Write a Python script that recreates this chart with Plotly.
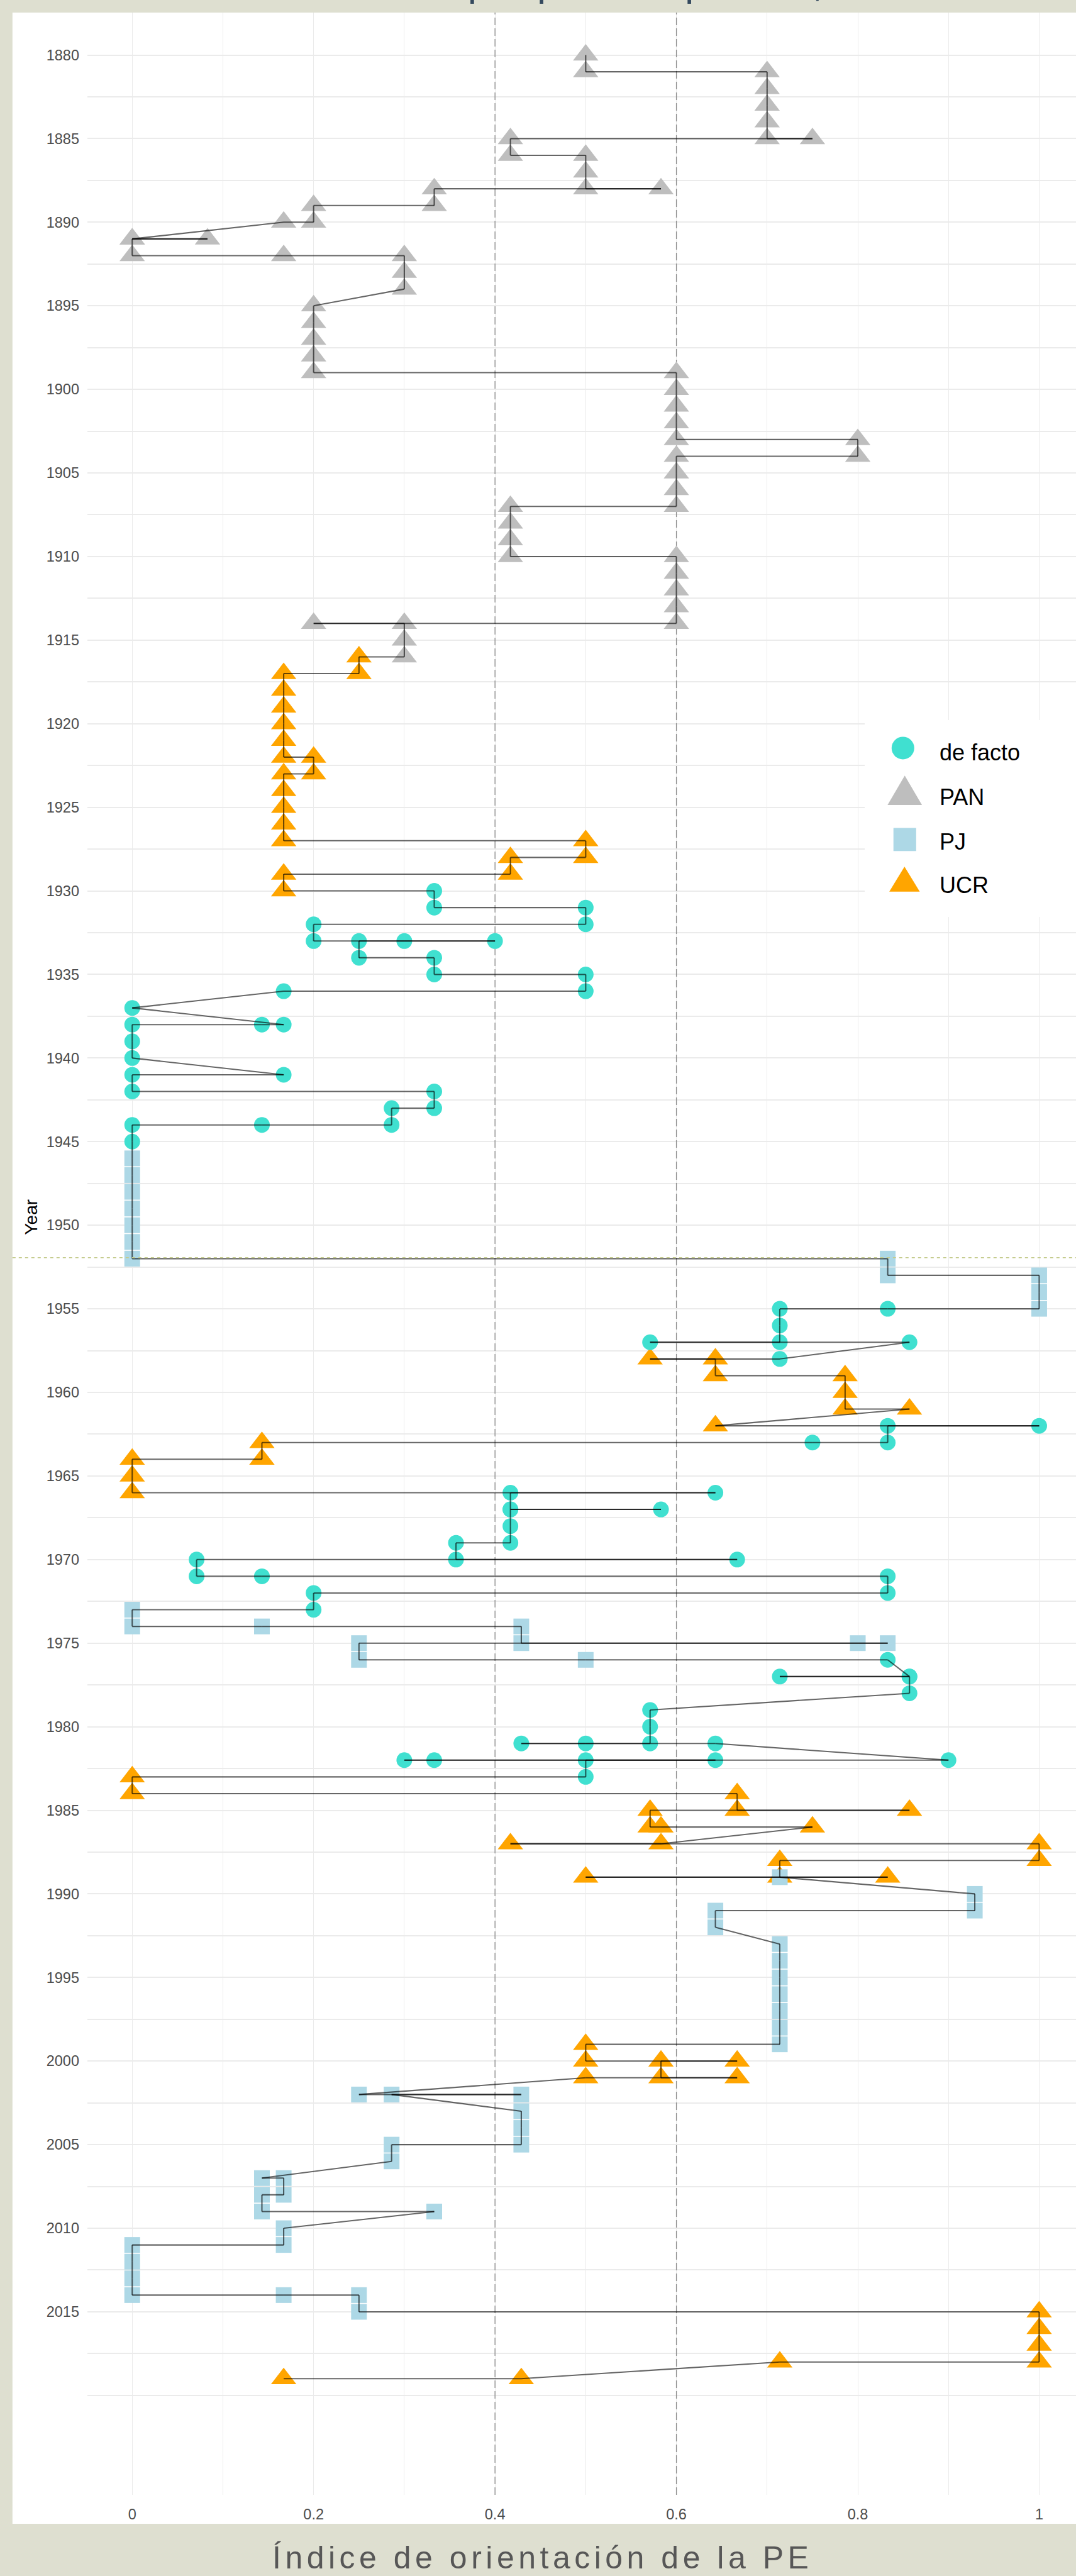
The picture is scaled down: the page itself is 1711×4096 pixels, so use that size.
import plotly.graph_objects as go

# ---------------------------------------------------------------- data
P, U, D, J = "PAN", "UCR", "de facto", "PJ"

# points in the order the path visits them
year = [
    1880,
    1881, 1881,
    1882, 1883, 1884,
    1885, 1885, 1885,
    1886, 1886,
    1887,
    1888, 1888, 1888,
    1889, 1889,
    1890, 1890,
    1891, 1891, 1891,
    1892, 1892, 1892,
    1893, 1894,
    1895, 1896, 1897, 1898,
    1899, 1899,
    1900, 1901, 1902,
    1903, 1903,
    1904, 1904,
    1905, 1906,
    1907, 1907,
    1908, 1909,
    1910, 1910,
    1911, 1912, 1913,
    1914, 1914, 1914,
    1915,
    1916, 1916,
    1917, 1917,
    1918, 1919, 1920, 1921,
    1922, 1922,
    1923, 1923,
    1924, 1925, 1926,
    1927, 1927,
    1928, 1928,
    1929, 1929,
    1930, 1930,
    1931, 1931,
    1932, 1932,
    1933, 1933, 1933, 1933,
    1934, 1934,
    1935, 1935,
    1936, 1936,
    1937,
    1938, 1938, 1938,
    1939, 1940,
    1941, 1941,
    1942, 1942,
    1943, 1943,
    1944, 1944, 1944,
    1945,
    1946, 1947, 1948, 1949, 1950, 1951,
    1952, 1952,
    1953, 1953,
    1954,
    1955, 1955, 1955,
    1956,
    1957, 1957, 1957,
    1958, 1958, 1958,
    1959, 1959,
    1960,
    1961, 1961,
    1962, 1962, 1962,
    1963, 1963, 1963,
    1964, 1964,
    1965,
    1966, 1966, 1966,
    1967, 1967, 1967,
    1968,
    1969, 1969,
    1970, 1970, 1970,
    1971, 1971, 1971,
    1972, 1972,
    1973, 1973,
    1974, 1974, 1974,
    1975, 1975, 1975, 1975,
    1976, 1976, 1976,
    1977, 1977, 1977,
    1978, 1979, 1980,
    1981, 1981, 1981, 1981,
    1982, 1982, 1982, 1982, 1982,
    1983, 1983,
    1984, 1984,
    1985, 1985, 1985,
    1986, 1986, 1986,
    1987, 1987, 1987,
    1988, 1988,
    1989, 1989, 1989, 1989,
    1990,
    1991, 1991,
    1992,
    1993, 1994, 1995, 1996, 1997, 1998,
    1999, 1999,
    2000, 2000, 2000,
    2001, 2001, 2001,
    2002, 2002, 2002,
    2003, 2004,
    2005, 2005,
    2006,
    2007, 2007,
    2008, 2008,
    2009, 2009,
    2010,
    2011, 2011,
    2012, 2013,
    2014, 2014, 2014,
    2015, 2015,
    2016, 2017,
    2018, 2018,
    2019, 2019,
]

orientation = [
    0.5,
    0.5, 0.7,
    0.7, 0.7, 0.7,
    0.7, 0.75, 0.417,
    0.417, 0.5,
    0.5,
    0.5, 0.583, 0.333,
    0.333, 0.2,
    0.2, 0.167,
    0.0, 0.083, 0.0,
    0.0, 0.167, 0.3,
    0.3, 0.3,
    0.2, 0.2, 0.2, 0.2,
    0.2, 0.6,
    0.6, 0.6, 0.6,
    0.6, 0.8,
    0.8, 0.6,
    0.6, 0.6,
    0.6, 0.417,
    0.417, 0.417,
    0.417, 0.6,
    0.6, 0.6, 0.6,
    0.6, 0.2, 0.3,
    0.3,
    0.3, 0.25,
    0.25, 0.167,
    0.167, 0.167, 0.167, 0.167,
    0.167, 0.2,
    0.2, 0.167,
    0.167, 0.167, 0.167,
    0.167, 0.5,
    0.5, 0.417,
    0.417, 0.167,
    0.167, 0.333,
    0.333, 0.5,
    0.5, 0.2,
    0.2, 0.3, 0.4, 0.25,
    0.25, 0.333,
    0.333, 0.5,
    0.5, 0.167,
    0.0,
    0.167, 0.143, 0.0,
    0.0, 0.0,
    0.167, 0.0,
    0.0, 0.333,
    0.333, 0.286,
    0.286, 0.143, 0.0,
    0.0,
    0.0, 0.0, 0.0, 0.0, 0.0, 0.0,
    0.0, 0.833,
    0.833, 1.0,
    1.0,
    1.0, 0.833, 0.714,
    0.714,
    0.714, 0.571, 0.857,
    0.714, 0.571, 0.643,
    0.643, 0.786,
    0.786,
    0.786, 0.857,
    0.643, 1.0, 0.833,
    0.833, 0.75, 0.143,
    0.143, 0.0,
    0.0,
    0.0, 0.643, 0.417,
    0.417, 0.583, 0.417,
    0.417,
    0.417, 0.357,
    0.357, 0.667, 0.071,
    0.071, 0.143, 0.833,
    0.833, 0.2,
    0.2, 0.0,
    0.0, 0.143, 0.429,
    0.429, 0.8, 0.833, 0.25,
    0.25, 0.5, 0.833,
    0.857, 0.714, 0.857,
    0.857, 0.571, 0.571,
    0.571, 0.429, 0.5, 0.643,
    0.9, 0.3, 0.333, 0.643, 0.5,
    0.5, 0.0,
    0.0, 0.667,
    0.667, 0.857, 0.571,
    0.571, 0.583, 0.75,
    0.583, 0.417, 1.0,
    1.0, 0.714,
    0.714, 0.5, 0.833, 0.714,
    0.929,
    0.929, 0.643,
    0.643,
    0.714, 0.714, 0.714, 0.714, 0.714, 0.714,
    0.714, 0.5,
    0.5, 0.667, 0.583,
    0.583, 0.667, 0.5,
    0.25, 0.429, 0.286,
    0.429, 0.429,
    0.429, 0.286,
    0.286,
    0.143, 0.167,
    0.167, 0.143,
    0.143, 0.333,
    0.167,
    0.167, 0.0,
    0.0, 0.0,
    0.0, 0.167, 0.25,
    0.25, 1.0,
    1.0, 1.0,
    1.0, 0.714,
    0.429, 0.167,
]

party = [
    P,
    P, P,
    P, P, P,
    P, P, P,
    P, P,
    P,
    P, P, P,
    P, P,
    P, P,
    P, P, P,
    P, P, P,
    P, P,
    P, P, P, P,
    P, P,
    P, P, P,
    P, P,
    P, P,
    P, P,
    P, P,
    P, P,
    P, P,
    P, P, P,
    P, P, P,
    P,
    P, U,
    U, U,
    U, U, U, U,
    U, U,
    U, U,
    U, U, U,
    U, U,
    U, U,
    U, U,
    U, D,
    D, D,
    D, D,
    D, D, D, D,
    D, D,
    D, D,
    D, D,
    D,
    D, D, D,
    D, D,
    D, D,
    D, D,
    D, D,
    D, D, D,
    D,
    J, J, J, J, J, J,
    J, J,
    J, J,
    J,
    J, D, D,
    D,
    D, D, D,
    D, U, U,
    U, U,
    U,
    U, U,
    U, D, D,
    D, D, U,
    U, U,
    U,
    U, D, D,
    D, D, D,
    D,
    D, D,
    D, D, D,
    D, D, D,
    D, D,
    D, J,
    J, J, J,
    J, J, J, J,
    J, J, D,
    D, D, D,
    D, D, D,
    D, D, D, D,
    D, D, D, D, D,
    D, U,
    U, U,
    U, U, U,
    U, U, U,
    U, U, U,
    U, U,
    U, U, U, J,
    J,
    J, J,
    J,
    J, J, J, J, J, J,
    J, U,
    U, U, U,
    U, U, U,
    J, J, J,
    J, J,
    J, J,
    J,
    J, J,
    J, J,
    J, J,
    J,
    J, J,
    J, J,
    J, J, J,
    J, U,
    U, U,
    U, U,
    U, U,
]

assert len(year) == len(orientation) == len(party)

year_ticks = [1880, 1885, 1890, 1895, 1900, 1905, 1910, 1915, 1920, 1925,
              1930, 1935, 1940, 1945, 1950, 1955, 1960, 1965, 1970, 1975,
              1980, 1985, 1990, 1995, 2000, 2005, 2010, 2015]
year_grid_minor = [1882.5, 1887.5, 1892.5, 1897.5, 1902.5, 1907.5, 1912.5,
                   1917.5, 1922.5, 1927.5, 1932.5, 1937.5, 1942.5, 1947.5,
                   1952.5, 1957.5, 1962.5, 1967.5, 1972.5, 1977.5, 1982.5,
                   1987.5, 1992.5, 1997.5, 2002.5, 2007.5, 2012.5, 2017.5,
                   2020]
x_ticks = [0, 0.2, 0.4, 0.6, 0.8, 1]
x_tick_text = ["0", "0.2", "0.4", "0.6", "0.8", "1"]
reference_x = [0.4, 0.6]
reference_year = 1951.94

legend_order = [D, P, J, U]
colors = {D: "#40E0D0", P: "#BEBEBE", J: "#ADD8E6", U: "#FFA500"}
symbols = {D: "circle", P: "triangle-up", J: "square", U: "triangle-up"}
sizes = {D: 25, P: 35, J: 25, U: 35}
draw_order = [P, U, D, J]

# ---------------------------------------------------------------- geometry
W, H = 1711, 4096
ML, MR, MT, MB = 139, 0, 20, 129
PW, PH = W - ML - MR, H - MT - MB
X_RANGE = [-0.0494, 1.0406]
Y_RANGE = [2025.95, 1877.46]

BEIGE = "#DEDFD0"
FONT = "Liberation Sans, Arial, sans-serif"


def px_x(px):
    return (px - ML) / PW


def px_y(py):
    return (H - MB - py) / PH


fig = go.Figure()

# reference vertical dashed lines (above grid, below points)
for xv in reference_x:
    fig.add_trace(go.Scatter(
        x=[xv, xv], y=Y_RANGE, mode="lines",
        line=dict(color="#8A8A8A", width=1.3, dash="12px,5px"),
        hoverinfo="skip", showlegend=False))

# points
for p in draw_order:
    xs = [o for o, q in zip(orientation, party) if q == p]
    ys = [y for y, q in zip(year, party) if q == p]
    fig.add_trace(go.Scatter(
        x=xs, y=ys, mode="markers", name=p,
        marker=dict(color=colors[p], symbol=symbols[p], size=sizes[p],
                    line=dict(width=0)),
        hoverinfo="skip", showlegend=False))

# path, one segment per trace so overlapping pieces darken like the original
for i in range(len(year) - 1):
    fig.add_trace(go.Scatter(
        x=[orientation[i], orientation[i + 1]], y=[year[i], year[i + 1]],
        mode="lines", line=dict(color="rgba(0,0,0,0.6)", width=2.1),
        hoverinfo="skip", showlegend=False))

shapes = []
# white panel area
shapes.append(dict(type="rect", xref="paper", yref="paper", layer="below",
                   x0=px_x(19.8), x1=px_x(W) + 0.002, y0=px_y(4013), y1=1.0,
                   fillcolor="white", line=dict(width=0)))
# olive dashed horizontal line
shapes.append(dict(type="line", xref="paper", yref="y", layer="above",
                   x0=px_x(19.8), x1=px_x(W) + 0.002,
                   y0=reference_year, y1=reference_year,
                   line=dict(color="#C5CC8E", width=1.3, dash="5px,5px")))
# legend box
shapes.append(dict(type="rect", xref="paper", yref="paper", layer="above",
                   x0=px_x(1375), x1=px_x(W) + 0.002, y0=px_y(1458), y1=px_y(1145),
                   fillcolor="white", line=dict(width=0)))
# legend keys
shapes.append(dict(type="circle", xref="paper", yref="paper", layer="above",
                   x0=px_x(1435.8 - 18), x1=px_x(1435.8 + 18),
                   y0=px_y(1189.4 + 18), y1=px_y(1189.4 - 18),
                   fillcolor=colors[D], line=dict(width=0)))


def tri_path(cx, top, bottom, half):
    return "M {} {} L {} {} L {} {} Z".format(
        px_x(cx - half), px_y(bottom), px_x(cx + half), px_y(bottom),
        px_x(cx), px_y(top))


shapes.append(dict(type="path", xref="paper", yref="paper", layer="above",
                   path=tri_path(1438.7, 1233.3, 1280.1, 27.4),
                   fillcolor=colors[P], line=dict(width=0)))
shapes.append(dict(type="rect", xref="paper", yref="paper", layer="above",
                   x0=px_x(1420.7), x1=px_x(1456.8), y0=px_y(1353.2), y1=px_y(1316.5),
                   fillcolor=colors[J], line=dict(width=0)))
shapes.append(dict(type="path", xref="paper", yref="paper", layer="above",
                   path=tri_path(1438.3, 1378.1, 1417.8, 24.2),
                   fillcolor=colors[U], line=dict(width=0)))

annotations = []
legend_text_y = [1196.8, 1267.5, 1338.4, 1407.7]
for name, ty in zip(legend_order, legend_text_y):
    annotations.append(dict(
        text=name, xref="paper", yref="paper", x=px_x(1492), y=px_y(ty),
        xanchor="left", yanchor="middle", showarrow=False,
        font=dict(family=FONT, size=36, color="black")))

# y axis title
annotations.append(dict(
    text="Year", xref="paper", yref="y", x=px_x(49.6), y=1949.5,
    textangle=-90, xanchor="center", yanchor="middle", showarrow=False,
    font=dict(family=FONT, size=28, color="black")))

# x axis title (wide lettering like the original)
XT_F = 50
annotations.append(dict(
    text='<span style="letter-spacing:6.5px">Índice de orientación de la PE</span>',
    xref="paper", yref="paper", x=px_x(862), y=px_y(4084 + 0.212 * XT_F + 2),
    xanchor="center", yanchor="bottom", showarrow=False,
    font=dict(family=FONT, size=XT_F, color="#575757")))

# chart title, cut off by the top edge (only descenders show)
TT_F = 64
annotations.append(dict(
    text="Orientación de la PE por período político, 1880-2019",
    xref="paper", yref="paper", x=px_x(ML - 2), y=px_y(-6.6 + 0.212 * TT_F + 2),
    xanchor="left", yanchor="bottom", showarrow=False,
    font=dict(family=FONT, size=TT_F, color="#34495E")))

fig.update_layout(
    width=W, height=H, autosize=False,
    margin=dict(l=ML, r=MR, t=MT, b=MB, pad=0),
    paper_bgcolor=BEIGE, plot_bgcolor="white",
    showlegend=False, hovermode=False,
    shapes=shapes, annotations=annotations,
    xaxis=dict(
        range=X_RANGE, tickvals=x_ticks, ticktext=x_tick_text,
        showgrid=True, gridcolor="#EBEBEB", gridwidth=1,
        minor=dict(dtick=0.1, tick0=0, showgrid=True, gridcolor="#EBEBEB", gridwidth=1),
        zeroline=False, showline=False, ticks="",
        ticklabelstandoff=14,
        tickfont=dict(family=FONT, size=23.5, color="#4D4D4D")),
    yaxis=dict(
        range=Y_RANGE, tickvals=year_ticks,
        showgrid=True, gridcolor="#EBEBEB", gridwidth=2.3,
        minor=dict(tickvals=year_grid_minor, showgrid=True, gridcolor="#EBEBEB", gridwidth=2.3),
        zeroline=False, showline=False, ticks="",
        ticklabelstandoff=12,
        tickfont=dict(family=FONT, size=23.5, color="#4D4D4D")),
)

fig.write_html("out.html", config={"displayModeBar": False},
               post_script="document.body.style.margin='0';")
